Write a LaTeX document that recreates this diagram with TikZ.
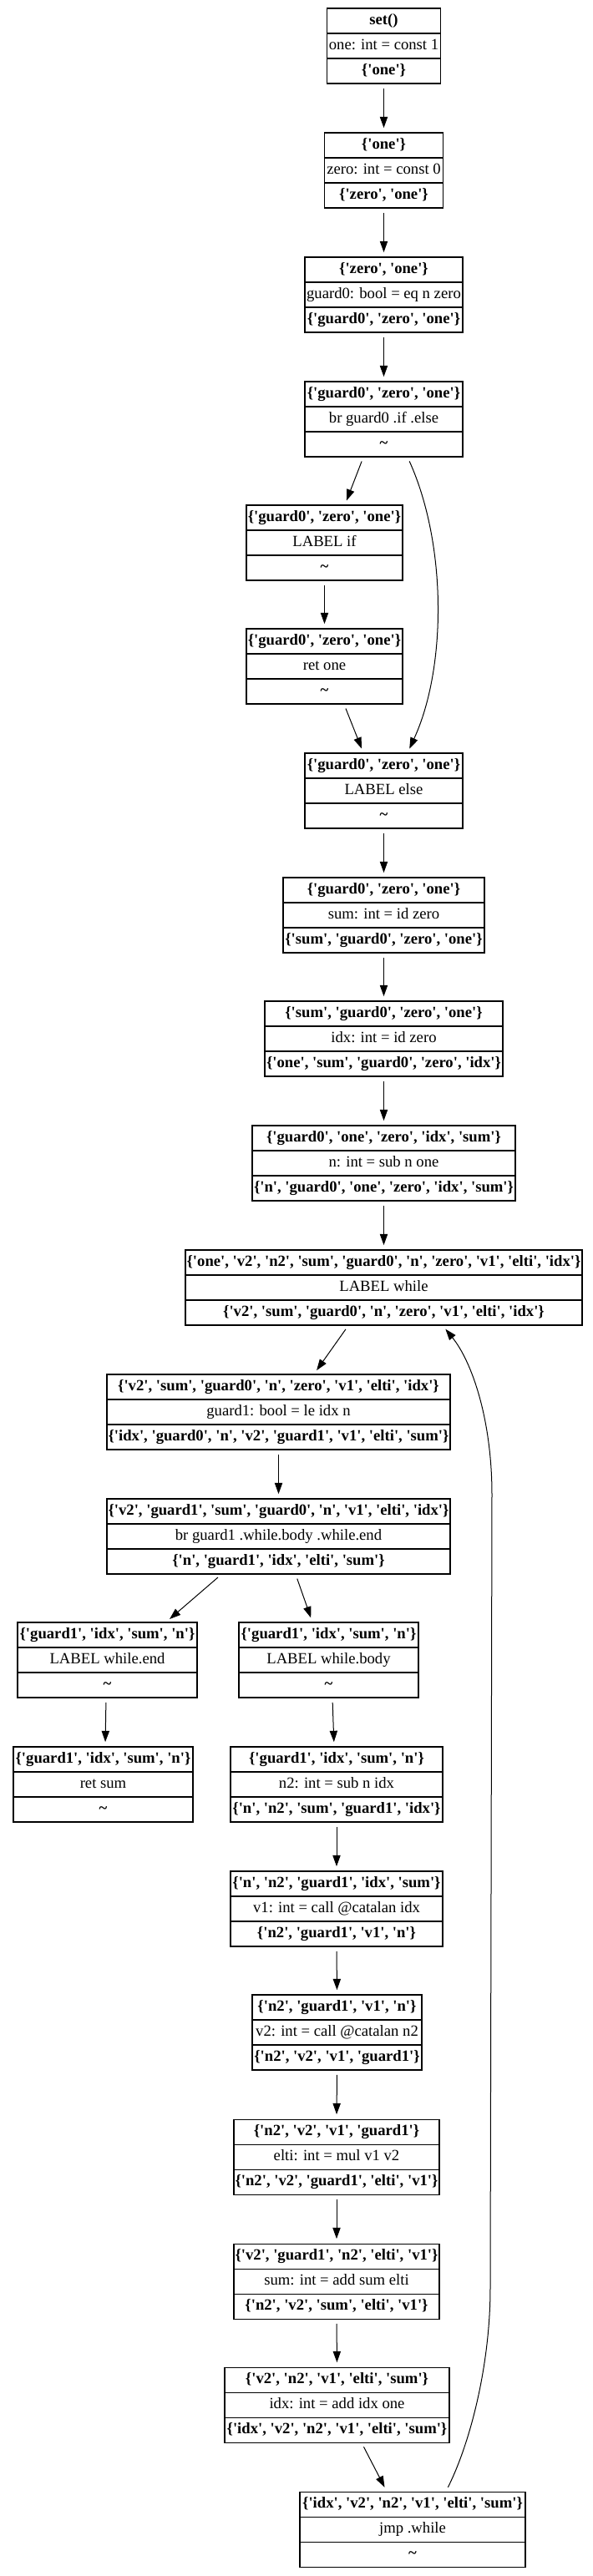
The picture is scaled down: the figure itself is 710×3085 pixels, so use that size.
\documentclass[tikz,border=0pt]{standalone}
\usepackage{fontspec}
\setmainfont{Liberation Serif}[Ligatures=TeXOff]
\usetikzlibrary{arrows.meta,calc}

\tikzset{
  recbox/.style={draw, line width=0.8pt, rectangle, inner sep=0pt, minimum height=67.5pt},
  recline/.style={line width=0.8pt},
  rowtxt/.style={inner sep=0pt, text height=10pt, text depth=3pt, font=\fontsize{14}{16}\selectfont},
  rowbold/.style={inner sep=0pt, text height=10pt, text depth=3pt, font=\fontsize{14}{16}\selectfont\bfseries},
  flow/.style={line width=0.75pt, -{Triangle[length=10pt,width=7pt]}, shorten <=4pt, shorten >=4pt},
}

% #1 name, #2 centre x, #3 top y, #4 width, #5 #6 #7 the three rows
\newcommand{\recrow}[7]{%
  \node[recbox, minimum width=#4*0.75pt] (#1) at (#2,#3+45) {};
  \draw[recline] (#2-#4/2,#3+30) -- (#2+#4/2,#3+30);
  \draw[recline] (#2-#4/2,#3+60) -- (#2+#4/2,#3+60);
  \node[rowbold] (#1-a) at (#2,#3+15) {#5};
  \node[rowtxt]  (#1-b) at (#2,#3+45) {#6};
  \node[rowbold] (#1-c) at (#2,#3+75) {#7};
}

\begin{document}
\begin{tikzpicture}[x=0.75pt,y=-0.75pt]
\useasboundingbox (0,0) rectangle (710,3085);

\recrow{s0}{459.5}{10}{136}{set()}{one: int = const 1}{\{'one'\}}
\recrow{b1}{459.5}{159}{142}{\{'one'\}}{zero: int = const 0}{\{'zero', 'one'\}}
\recrow{b2}{459.5}{308}{189}{\{'zero', 'one'\}}{guard0: bool = eq n zero}{\{'guard0', 'zero', 'one'\}}
\recrow{b3}{459.5}{457}{189}{\{'guard0', 'zero', 'one'\}}{br guard0 .if .else}{\textasciitilde}
\recrow{b4}{388.5}{605}{187}{\{'guard0', 'zero', 'one'\}}{LABEL if}{\textasciitilde}
\recrow{b5}{388.5}{753}{187}{\{'guard0', 'zero', 'one'\}}{ret one}{\textasciitilde}
\recrow{b6}{459.5}{902}{189}{\{'guard0', 'zero', 'one'\}}{LABEL else}{\textasciitilde}
\recrow{b7}{459.5}{1051}{241}{\{'guard0', 'zero', 'one'\}}{sum: int = id zero}{\{'sum', 'guard0', 'zero', 'one'\}}
\recrow{b8}{459.5}{1199}{285}{\{'sum', 'guard0', 'zero', 'one'\}}{idx: int = id zero}{\{'one', 'sum', 'guard0', 'zero', 'idx'\}}
\recrow{b9}{459.5}{1348}{315}{\{'guard0', 'one', 'zero', 'idx', 'sum'\}}{n: int = sub n one}{\{'n', 'guard0', 'one', 'zero', 'idx', 'sum'\}}
\recrow{b10}{459.5}{1497}{475}{\{'one', 'v2', 'n2', 'sum', 'guard0', 'n', 'zero', 'v1', 'elti', 'idx'\}}{LABEL while}{\{'v2', 'sum', 'guard0', 'n', 'zero', 'v1', 'elti', 'idx'\}}
\recrow{b11}{333.5}{1646}{411}{\{'v2', 'sum', 'guard0', 'n', 'zero', 'v1', 'elti', 'idx'\}}{guard1: bool = le idx n}{\{'idx', 'guard0', 'n', 'v2', 'guard1', 'v1', 'elti', 'sum'\}}
\recrow{b12}{333.5}{1795}{411}{\{'v2', 'guard1', 'sum', 'guard0', 'n', 'v1', 'elti', 'idx'\}}{br guard1 .while.body .while.end}{\{'n', 'guard1', 'idx', 'elti', 'sum'\}}
\recrow{b13}{128.5}{1943}{215}{\{'guard1', 'idx', 'sum', 'n'\}}{LABEL while.end}{\textasciitilde}
\recrow{b14}{393.5}{1943}{215}{\{'guard1', 'idx', 'sum', 'n'\}}{LABEL while.body}{\textasciitilde}
\recrow{b15}{123.5}{2092}{215}{\{'guard1', 'idx', 'sum', 'n'\}}{ret sum}{\textasciitilde}
\recrow{b16}{403}{2092}{254}{\{'guard1', 'idx', 'sum', 'n'\}}{n2: int = sub n idx}{\{'n', 'n2', 'sum', 'guard1', 'idx'\}}
\recrow{b17}{403}{2241}{254}{\{'n', 'n2', 'guard1', 'idx', 'sum'\}}{v1: int = call @catalan idx}{\{'n2', 'guard1', 'v1', 'n'\}}
\recrow{b18}{403.5}{2389}{203}{\{'n2', 'guard1', 'v1', 'n'\}}{v2: int = call @catalan n2}{\{'n2', 'v2', 'v1', 'guard1'\}}
\recrow{b19}{403}{2538}{246}{\{'n2', 'v2', 'v1', 'guard1'\}}{elti: int = mul v1 v2}{\{'n2', 'v2', 'guard1', 'elti', 'v1'\}}
\recrow{b20}{403}{2687}{246}{\{'v2', 'guard1', 'n2', 'elti', 'v1'\}}{sum: int = add sum elti}{\{'n2', 'v2', 'sum', 'elti', 'v1'\}}
\recrow{b21}{403.5}{2835}{269}{\{'v2', 'n2', 'v1', 'elti', 'sum'\}}{idx: int = add idx one}{\{'idx', 'v2', 'n2', 'v1', 'elti', 'sum'\}}
\recrow{b22}{494}{2984}{270}{\{'idx', 'v2', 'n2', 'v1', 'elti', 'sum'\}}{jmp .while}{\textasciitilde}

\draw[flow] (s0) -- (b1);
\draw[flow] (b1) -- (b2);
\draw[flow] (b2) -- (b3);
\draw[flow] ($(b3.south)+(-24.5,0)$) -- ($(b4.north)+(24.5,0)$);
\draw[flow] ($(b3.south)+(28.5,0)$) .. controls +(47,104) and +(47,-102) .. ($(b6.north)+(28.5,0)$);
\draw[flow] ($(b4.south)+(0,0)$) -- ($(b5.north)+(0,0)$);
\draw[flow] ($(b5.south)+(23.5,0)$) -- ($(b6.north)+(-24.5,0)$);
\draw[flow] (b6) -- (b7);
\draw[flow] (b7) -- (b8);
\draw[flow] (b8) -- (b9);
\draw[flow] (b9) -- (b10);
\draw[flow] ($(b10.south)+(-42.5,0)$) -- ($(b11.north)+(42.5,0)$);
\draw[flow] (b11) -- (b12);
\draw[flow] ($(b12.south)+(-68.5,0)$) -- ($(b13.north)+(70.5,0)$);
\draw[flow] ($(b12.south)+(20.5,0)$) -- ($(b14.north)+(-19.5,0)$);
\draw[flow] ($(b13.south)+(-1.5,0)$) -- ($(b15.north)+(2.5,0)$);
\draw[flow] ($(b14.south)+(4.5,0)$) -- ($(b16.north)+(-3,0)$);
\draw[flow] (b16.south) -- (b17.north);
\draw[flow] (b17.south) -- (b18.north);
\draw[flow] (b18.south) -- (b19.north);
\draw[flow] (b19.south) -- (b20.north);
\draw[flow] (b20.south) -- (b21.north);
\draw[flow] ($(b21.south)+(29.5,0)$) -- ($(b22.north)+(-31,0)$);
\draw[flow] ($(b22.north)+(40,0)$) .. controls +(30,-60) and +(0,90) .. (587,2740)
  -- (589,1790) .. controls +(0,-90) and +(35,43) .. ($(b10.south)+(70.5,0)$);

\end{tikzpicture}
\end{document}
